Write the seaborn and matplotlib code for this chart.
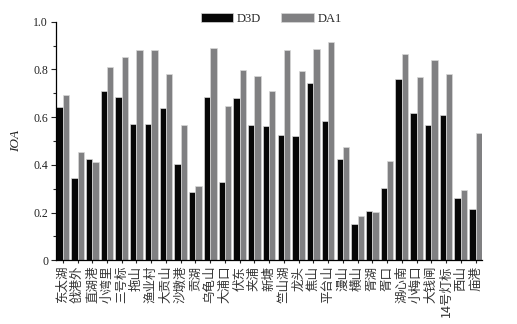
import matplotlib
matplotlib.use("Agg")
import matplotlib.pyplot as plt
from matplotlib.ticker import MultipleLocator
import seaborn as sns
import pandas as pd

sites = ["东太湖", "戗港外", "直湖港", "小湾里", "三号标", "拖山", "渔业村", "大贡山",
         "沙墩港", "贡湖", "乌龟山", "大浦口", "伏东", "夹浦", "新塘", "竺山湖", "龙头",
         "焦山", "平台山", "漫山", "横山", "胥湖", "胥口", "湖心南", "小梅口", "大钱闸",
         "14号灯标", "西山", "庙港"]
d3d = [0.644, 0.345, 0.425, 0.711, 0.686, 0.571, 0.571, 0.637, 0.402, 0.285, 0.683,
       0.328, 0.682, 0.566, 0.563, 0.525, 0.522, 0.741, 0.584, 0.425, 0.152, 0.208,
       0.303, 0.761, 0.618, 0.567, 0.611, 0.260, 0.216]
da1 = [0.692, 0.454, 0.413, 0.812, 0.852, 0.882, 0.882, 0.781, 0.567, 0.310, 0.890,
       0.646, 0.797, 0.773, 0.710, 0.883, 0.792, 0.887, 0.917, 0.475, 0.186, 0.204,
       0.416, 0.864, 0.770, 0.840, 0.780, 0.296, 0.534]
series = ["D3D", "DA1"]

df = pd.DataFrame({
    "site": sites * 2,
    "IOA": d3d + da1,
    "model": [series[0]] * len(sites) + [series[1]] * len(sites),
})

sns.set_style("ticks")
plt.rcParams["font.family"] = ["Liberation Serif", "Noto Sans CJK SC"]

fig = plt.figure(figsize=(5.17, 3.24), dpi=100)
ax = fig.add_axes([55.7 / 517, 1 - 260.3 / 324, 426 / 517, 238.6 / 324])

sns.barplot(data=df, x="site", y="IOA", hue="model", order=sites, hue_order=series,
            palette={"D3D": "#070707", "DA1": "#808082"}, width=0.86, gap=0,
            edgecolor="#d8d8d8", linewidth=0.5, saturation=1, ax=ax, legend=True)

ax.set_xlim(-0.48, len(sites) - 1 + 0.42)
ax.set_ylim(0, 1.0)
ax.yaxis.set_major_locator(MultipleLocator(0.2))
ax.yaxis.set_minor_locator(MultipleLocator(0.1))
ax.set_yticks([0, 0.2, 0.4, 0.6, 0.8, 1.0])
ax.set_yticklabels(["0", "0.2", "0.4", "0.6", "0.8", "1.0"], fontsize=8.5)
ax.tick_params(axis="y", which="major", length=3.5, width=0.8, pad=2, colors="#222222")
ax.tick_params(axis="y", which="minor", length=2, width=0.8)
ax.tick_params(axis="x", which="major", length=2.5, width=0.8, pad=1.5, colors="#222222")
ax.set_xticks(range(len(sites)))
ax.set_xticklabels(sites, rotation=90, fontsize=9,
                   family=["Noto Sans CJK SC", "Liberation Serif"], color="#333333")
ax.set_xlabel("")
ax.set_ylabel("IOA", fontsize=9.5, style="italic", labelpad=8, color="#222222")
for s in ["left", "bottom"]:
    ax.spines[s].set_linewidth(0.9)
    ax.spines[s].set_color("black")
sns.despine(ax=ax)

handles, labels = ax.get_legend_handles_labels()
ax.get_legend().remove()
fig.legend(handles, labels, loc="center", bbox_to_anchor=(271 / 517, 1 - 19 / 324),
           ncol=2, frameon=False, fontsize=9, handlelength=2.6, handleheight=0.7,
           handletextpad=0.3, columnspacing=1.6)

fig.savefig("out.png", dpi=100)
